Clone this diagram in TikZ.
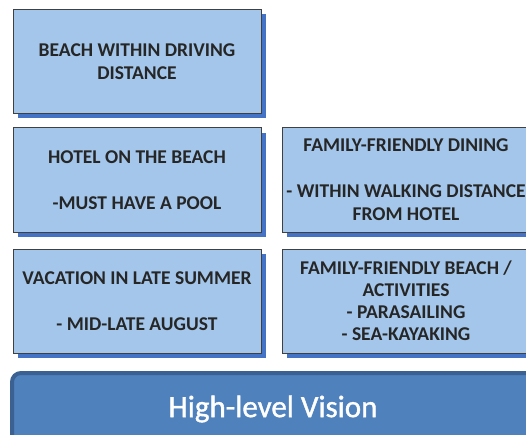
\documentclass[tikz,border=0pt]{standalone}
\usepackage{fontspec}
\setmainfont{Carlito}
\newfontfamily\visionfont[FakeBold=1.2]{Carlito}
\usetikzlibrary{shadows}
\definecolor{boxfill}{HTML}{A3C6EA}
\definecolor{boxline}{HTML}{404040}
\definecolor{shadowblue}{HTML}{4472C4}
\definecolor{barfill}{HTML}{4F81BD}
\definecolor{barline}{HTML}{3A6191}
\definecolor{txt}{HTML}{262626}
\tikzset{
  reqbox/.style={draw=boxline, line width=1pt, fill=boxfill,
    minimum width=248pt, minimum height=104pt, inner sep=0pt,
    align=center, text=txt,
    font=\fontsize{19.5}{23}\selectfont\bfseries,
    drop shadow={shadow xshift=5pt, shadow yshift=-5pt, fill=shadowblue, opacity=1}},
  visionbar/.style={draw=barline, line width=4pt, fill=barfill, rounded corners=9pt,
    minimum width=522pt, minimum height=72pt, inner sep=0pt,
    text=white, font=\visionfont\fontsize{31}{34}\selectfont}
}
\begin{document}
\begin{tikzpicture}[x=1pt,y=1pt]
\useasboundingbox (0,0) rectangle (526,-435);
\node[reqbox] (beach) at (137,-61.5) {BEACH WITHIN DRIVING\\DISTANCE};
\node[reqbox] (hotel) at (137,-180) {HOTEL ON THE BEACH\\[23pt]-MUST HAVE A POOL};
\node[reqbox] (dining) at (406,-180) {FAMILY-FRIENDLY DINING\\[23pt]- WITHIN WALKING DISTANCE\\FROM HOTEL};
\node[reqbox, font=\fontsize{19.5}{22}\selectfont\bfseries] (activities) at (406,-301) {FAMILY-FRIENDLY BEACH /\\ACTIVITIES\\- PARASAILING\\- SEA-KAYAKING};
\node[reqbox] (summer) at (137,-301) {VACATION IN LATE SUMMER\\[23pt]- MID-LATE AUGUST};
\node[visionbar] (vision) at (273,-409) {High-level Vision};
\end{tikzpicture}
\end{document}
